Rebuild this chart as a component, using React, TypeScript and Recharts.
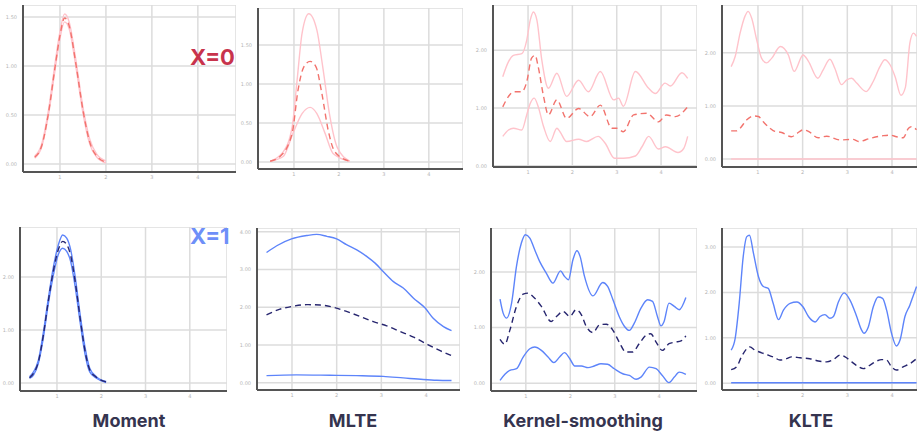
import React from "react";
import { LineChart, Line, XAxis, YAxis, CartesianGrid } from "recharts";

// X = 0 row (pink)
const momentX0Upper = [[0.45, 0.08], [0.6, 0.2], [0.75, 0.55], [0.9, 1.05], [1.0, 1.35], [1.1, 1.53], [1.2, 1.45], [1.35, 1.05], [1.5, 0.58], [1.65, 0.25], [1.8, 0.1], [2.0, 0.03]];
const momentX0Mid = [[0.45, 0.07], [0.6, 0.18], [0.75, 0.52], [0.9, 1.01], [1.0, 1.31], [1.1, 1.49], [1.2, 1.41], [1.35, 1.01], [1.5, 0.55], [1.65, 0.22], [1.8, 0.08], [2.0, 0.02]];
const momentX0Lower = [[0.45, 0.06], [0.6, 0.17], [0.75, 0.5], [0.9, 0.98], [1.0, 1.28], [1.1, 1.45], [1.2, 1.38], [1.35, 0.98], [1.5, 0.52], [1.65, 0.2], [1.8, 0.07], [2.0, 0.01]];

const mlteX0Upper = [[0.47, 0.01], [0.76, 0.13], [0.96, 0.45], [1.07, 1.05], [1.18, 1.65], [1.33, 1.9], [1.51, 1.69], [1.64, 1.22], [1.8, 0.58], [1.96, 0.19], [2.24, 0.01]];
const mlteX0Mid = [[0.47, 0.01], [0.69, 0.07], [0.96, 0.37], [1.09, 0.92], [1.22, 1.22], [1.36, 1.29], [1.49, 1.22], [1.62, 0.88], [1.76, 0.41], [1.91, 0.13], [2.24, 0.01]];
const mlteX0Lower = [[0.47, 0.01], [0.76, 0.07], [0.98, 0.37], [1.18, 0.62], [1.36, 0.7], [1.51, 0.62], [1.69, 0.37], [1.87, 0.11], [2.24, 0.01]];

const kernelX0Upper = [[0.43, 1.54], [0.56, 1.8], [0.67, 1.91], [0.86, 1.94], [0.97, 2.17], [1.05, 2.52], [1.12, 2.66], [1.2, 2.52], [1.31, 1.83], [1.46, 1.34], [1.65, 1.6], [1.87, 1.2], [2.14, 1.48], [2.36, 1.28], [2.63, 1.63], [2.93, 1.14], [3.04, 1.17], [3.15, 1.03], [3.42, 1.63], [3.72, 1.34], [3.87, 1.25], [4.09, 1.43], [4.21, 1.38], [4.47, 1.61], [4.6, 1.51]];
const kernelX0Mid = [[0.43, 1.02], [0.56, 1.2], [0.67, 1.28], [0.86, 1.28], [0.97, 1.45], [1.08, 1.86], [1.16, 1.91], [1.23, 1.71], [1.35, 1.2], [1.46, 0.88], [1.65, 1.14], [1.87, 0.82], [2.14, 0.99], [2.4, 0.85], [2.63, 1.05], [2.89, 0.65], [3.0, 0.65], [3.15, 0.59], [3.38, 0.88], [3.68, 0.91], [3.94, 0.76], [4.12, 0.88], [4.32, 0.85], [4.6, 1.02]];
const kernelX0Lower = [[0.43, 0.51], [0.56, 0.62], [0.67, 0.65], [0.86, 0.62], [0.97, 0.88], [1.05, 1.08], [1.14, 1.17], [1.23, 1.02], [1.35, 0.68], [1.5, 0.42], [1.65, 0.65], [1.72, 0.59], [1.87, 0.42], [2.14, 0.46], [2.32, 0.42], [2.58, 0.51], [2.74, 0.39], [2.95, 0.13], [3.15, 0.13], [3.42, 0.17], [3.57, 0.33], [3.72, 0.51], [3.94, 0.29], [4.1, 0.33], [4.38, 0.23], [4.51, 0.3], [4.6, 0.51]];

const klteX0Upper = [[0.4, 1.74], [0.49, 1.93], [0.6, 2.37], [0.71, 2.69], [0.78, 2.78], [0.86, 2.65], [0.97, 2.25], [1.08, 1.9], [1.19, 1.81], [1.31, 1.9], [1.5, 2.12], [1.68, 1.96], [1.81, 1.65], [2.01, 1.96], [2.13, 1.84], [2.34, 1.52], [2.46, 1.68], [2.61, 1.88], [2.72, 1.71], [2.87, 1.4], [2.99, 1.49], [3.1, 1.52], [3.21, 1.43], [3.42, 1.27], [3.58, 1.46], [3.73, 1.74], [3.84, 1.87], [3.96, 1.77], [4.07, 1.55], [4.2, 1.2], [4.3, 1.35], [4.4, 2.18], [4.48, 2.37], [4.55, 2.31]];
const klteX0Mid = [[0.4, 0.53], [0.52, 0.53], [0.6, 0.58], [0.75, 0.74], [0.9, 0.81], [1.01, 0.8], [1.12, 0.7], [1.27, 0.58], [1.38, 0.52], [1.53, 0.5], [1.75, 0.42], [1.87, 0.48], [2.01, 0.55], [2.13, 0.52], [2.35, 0.4], [2.54, 0.43], [2.84, 0.36], [3.13, 0.37], [3.25, 0.33], [3.51, 0.39], [3.81, 0.44], [3.96, 0.45], [4.1, 0.42], [4.25, 0.4], [4.37, 0.58], [4.44, 0.61], [4.55, 0.55]];
const klteX0Lower = [[0.4, 0.0], [1.5, 0.0], [3.0, 0.0], [4.55, 0.0]];

// X = 1 row (blue)
const momentX1Upper = [[0.38, 0.12], [0.47, 0.21], [0.58, 0.43], [0.69, 0.94], [0.8, 1.57], [0.92, 2.19], [1.03, 2.6], [1.13, 2.79], [1.22, 2.73], [1.31, 2.51], [1.41, 2.01], [1.52, 1.31], [1.63, 0.69], [1.74, 0.28], [1.89, 0.12], [2.11, 0.03]];
const momentX1Mid = [[0.38, 0.1], [0.47, 0.18], [0.58, 0.4], [0.69, 0.89], [0.8, 1.52], [0.92, 2.12], [1.03, 2.51], [1.13, 2.67], [1.22, 2.61], [1.31, 2.4], [1.41, 1.92], [1.52, 1.24], [1.63, 0.62], [1.74, 0.25], [1.89, 0.11], [2.11, 0.02]];
const momentX1Lower = [[0.38, 0.09], [0.47, 0.15], [0.58, 0.37], [0.69, 0.84], [0.8, 1.47], [0.92, 2.04], [1.03, 2.42], [1.13, 2.54], [1.22, 2.48], [1.31, 2.29], [1.41, 1.82], [1.52, 1.16], [1.63, 0.56], [1.74, 0.21], [1.89, 0.09], [2.11, 0.01]];

const mlteX1Upper = [[0.43, 3.45], [0.66, 3.63], [0.99, 3.81], [1.33, 3.9], [1.55, 3.93], [1.78, 3.88], [2.0, 3.81], [2.22, 3.66], [2.45, 3.52], [2.67, 3.35], [2.86, 3.17], [3.04, 2.95], [3.27, 2.68], [3.49, 2.51], [3.72, 2.24], [3.98, 1.98], [4.16, 1.71], [4.39, 1.49], [4.57, 1.38]];
const mlteX1Mid = [[0.43, 1.8], [0.73, 1.95], [0.99, 2.02], [1.33, 2.07], [1.63, 2.06], [1.93, 2.0], [2.22, 1.89], [2.52, 1.76], [2.82, 1.62], [3.12, 1.51], [3.42, 1.36], [3.72, 1.21], [4.01, 1.03], [4.28, 0.87], [4.57, 0.72]];
const mlteX1Lower = [[0.43, 0.19], [1.1, 0.21], [1.85, 0.2], [2.45, 0.19], [3.04, 0.17], [3.49, 0.13], [3.94, 0.09], [4.24, 0.07], [4.57, 0.06]];

const kernelX1Upper = [[0.42, 1.51], [0.49, 1.26], [0.57, 1.17], [0.68, 1.44], [0.79, 2.1], [0.9, 2.52], [0.99, 2.67], [1.09, 2.61], [1.2, 2.4], [1.31, 2.19], [1.46, 1.98], [1.61, 1.8], [1.78, 2.02], [1.87, 1.92], [1.96, 1.86], [2.06, 2.22], [2.15, 2.38], [2.22, 2.28], [2.32, 1.92], [2.51, 1.57], [2.73, 1.81], [2.84, 1.74], [2.96, 1.5], [3.1, 1.2], [3.22, 1.02], [3.33, 0.95], [3.44, 1.08], [3.59, 1.35], [3.74, 1.5], [3.85, 1.47], [3.96, 1.2], [4.04, 1.03], [4.11, 1.11], [4.22, 1.44], [4.34, 1.38], [4.45, 1.32], [4.6, 1.54]];
const kernelX1Mid = [[0.42, 0.79], [0.53, 0.7], [0.64, 0.95], [0.79, 1.38], [0.94, 1.6], [1.05, 1.62], [1.16, 1.56], [1.35, 1.38], [1.57, 1.11], [1.69, 1.2], [1.84, 1.29], [1.99, 1.2], [2.13, 1.32], [2.25, 1.23], [2.36, 1.02], [2.51, 0.91], [2.66, 1.05], [2.81, 1.06], [2.96, 0.95], [3.1, 0.74], [3.25, 0.56], [3.4, 0.56], [3.55, 0.71], [3.7, 0.86], [3.81, 0.89], [3.93, 0.74], [4.07, 0.59], [4.22, 0.71], [4.37, 0.74], [4.49, 0.76], [4.6, 0.85]];
const kernelX1Lower = [[0.42, 0.05], [0.53, 0.16], [0.64, 0.23], [0.79, 0.26], [0.94, 0.47], [1.09, 0.62], [1.2, 0.65], [1.35, 0.59], [1.5, 0.47], [1.63, 0.37], [1.76, 0.47], [1.87, 0.55], [1.99, 0.44], [2.1, 0.31], [2.25, 0.31], [2.4, 0.28], [2.54, 0.31], [2.69, 0.35], [2.84, 0.34], [2.99, 0.26], [3.18, 0.17], [3.33, 0.14], [3.48, 0.07], [3.59, 0.11], [3.78, 0.29], [3.93, 0.26], [4.07, 0.14], [4.22, 0.01], [4.34, 0.11], [4.45, 0.2], [4.6, 0.16]];

const klteX1Upper = [[0.4, 0.73], [0.49, 0.99], [0.58, 1.76], [0.67, 2.79], [0.75, 3.23], [0.81, 3.26], [0.9, 2.86], [1.01, 2.35], [1.12, 2.13], [1.23, 2.09], [1.34, 1.76], [1.46, 1.4], [1.57, 1.61], [1.72, 1.76], [1.87, 1.79], [2.01, 1.68], [2.13, 1.47], [2.28, 1.35], [2.39, 1.47], [2.5, 1.51], [2.61, 1.43], [2.69, 1.47], [2.8, 1.79], [2.93, 1.99], [3.06, 1.83], [3.21, 1.47], [3.32, 1.17], [3.37, 1.1], [3.47, 1.24], [3.58, 1.68], [3.69, 1.9], [3.79, 1.87], [3.88, 1.61], [3.99, 1.1], [4.1, 0.82], [4.18, 0.95], [4.29, 1.47], [4.4, 1.72], [4.48, 1.94], [4.55, 2.13]];
const klteX1Mid = [[0.4, 0.3], [0.52, 0.36], [0.63, 0.58], [0.75, 0.76], [0.82, 0.8], [0.93, 0.73], [1.08, 0.67], [1.23, 0.62], [1.38, 0.56], [1.49, 0.51], [1.64, 0.54], [1.75, 0.58], [1.94, 0.56], [2.16, 0.54], [2.35, 0.49], [2.54, 0.47], [2.69, 0.52], [2.84, 0.62], [2.95, 0.58], [3.1, 0.47], [3.25, 0.36], [3.36, 0.32], [3.51, 0.4], [3.66, 0.49], [3.77, 0.52], [3.88, 0.51], [3.99, 0.36], [4.1, 0.29], [4.25, 0.36], [4.4, 0.43], [4.55, 0.54]];
const klteX1Lower = [[0.4, 0.01], [1.5, 0.01], [3.0, 0.01], [4.55, 0.01]];

const xTicks = [1, 2, 3, 4];
const methodTitles = ["Moment", "MLTE", "Kernel-smoothing", "KLTE"];
const rowLabels = ["X=0", "X=1"];

const PINK = "#ffc3cb";
const RED_DASH = "#f2736d";
const BLUE = "#5d84fa";
const NAVY_DASH = "#27266f";

const YW = 20;
const XH = 12;

const toPts = (arr: number[][]) => arr.map(([x, y]) => ({ x, y }));

const panels = [
  { left: 23, right: 236, top: 5, bottom: 172, x: [0.196, 4.83], y: [-0.082, 1.622], yTicks: [0, 0.5, 1, 1.5], s: [momentX0Upper, momentX0Mid, momentX0Lower], row: 0 },
  { left: 258, right: 463, top: 8, bottom: 169, x: [0.2, 4.76], y: [-0.09, 1.974], yTicks: [0, 0.5, 1, 1.5], s: [mlteX0Upper, mlteX0Mid, mlteX0Lower], row: 0 },
  { left: 493, right: 697, top: 5, bottom: 167, x: [0.21, 4.81], y: [-0.02, 2.78], yTicks: [0, 1, 2], s: [kernelX0Upper, kernelX0Mid, kernelX0Lower], row: 0 },
  { left: 722, right: 917, top: 5, bottom: 167, x: [0.195, 4.56], y: [-0.15, 2.9], yTicks: [0, 1, 2], s: [klteX0Upper, klteX0Mid, klteX0Lower], row: 0 },
  { left: 20, right: 227, top: 227, bottom: 391, x: [0.165, 4.84], y: [-0.15, 2.94], yTicks: [0, 1, 2], s: [momentX1Upper, momentX1Mid, momentX1Lower], row: 1 },
  { left: 257, right: 460, top: 228, bottom: 390, x: [0.217, 4.76], y: [-0.19, 4.1], yTicks: [0, 1, 2, 3, 4], s: [mlteX1Upper, mlteX1Mid, mlteX1Lower], row: 1 },
  { left: 491, right: 697, top: 228, bottom: 391, x: [0.217, 4.85], y: [-0.14, 2.79], yTicks: [0, 1, 2], s: [kernelX1Upper, kernelX1Mid, kernelX1Lower], row: 1 },
  { left: 722, right: 917, top: 228, bottom: 390, x: [0.195, 4.56], y: [-0.15, 3.42], yTicks: [0, 1, 2, 3], s: [klteX1Upper, klteX1Mid, klteX1Lower], row: 1 },
];

const tickStyle = { fontSize: 5, fill: "#b4b4b4", fontFamily: "DejaVu Sans" };

function Panel({ p }: any) {
  const w = p.right - p.left;
  const h = p.bottom - p.top;
  const solid = p.row === 0 ? PINK : BLUE;
  const dash = p.row === 0 ? RED_DASH : NAVY_DASH;
  return (
    <div style={{ position: "absolute", left: p.left - YW, top: p.top }}>
      <LineChart width={w + YW} height={h + XH} margin={{ top: 0, right: 0, bottom: 0, left: 0 }}>
        <CartesianGrid stroke="#dcdcdc" strokeWidth={1.5} />
        <XAxis
          type="number"
          dataKey="x"
          domain={p.x}
          ticks={xTicks}
          allowDataOverflow
          height={XH}
          tickLine={false}
          tickSize={0}
          tickMargin={3}
          axisLine={{ stroke: "#555", strokeWidth: 2 }}
          tick={tickStyle}
        />
        <YAxis
          type="number"
          dataKey="y"
          domain={p.y}
          ticks={p.yTicks}
          allowDataOverflow
          width={YW}
          tickLine={false}
          tickSize={0}
          tickMargin={6}
          axisLine={{ stroke: "#555", strokeWidth: 2 }}
          tick={tickStyle}
          tickFormatter={(v: number) => v.toFixed(2)}
        />
        <Line data={toPts(p.s[0])} dataKey="y" type="monotone" stroke={solid} strokeWidth={1.4} dot={false} isAnimationActive={false} />
        <Line data={toPts(p.s[2])} dataKey="y" type="monotone" stroke={solid} strokeWidth={1.4} dot={false} isAnimationActive={false} />
        <Line data={toPts(p.s[1])} dataKey="y" type="monotone" stroke={dash} strokeWidth={1.4} strokeDasharray="6 4" dot={false} isAnimationActive={false} />
      </LineChart>
    </div>
  );
}

const titleCenters = [129, 353, 583, 811];

export default function App() {
  return (
    <div style={{ position: "absolute", left: 0, top: 0, width: 917, height: 431, background: "#fff", overflow: "hidden", fontFamily: "Inter, 'Noto Sans', sans-serif" }}>
      {panels.map((p, i) => (
        <Panel key={i} p={p} />
      ))}
      <div style={{ position: "absolute", left: 190, top: 44, fontSize: 22, fontWeight: 700, color: "#c8334c", lineHeight: "26px" }}>{rowLabels[0]}</div>
      <div style={{ position: "absolute", left: 190, top: 223, fontSize: 22, fontWeight: 700, color: "#6e8ff8", lineHeight: "26px" }}>{rowLabels[1]}</div>
      {methodTitles.map((t, i) => (
        <div
          key={t}
          style={{ position: "absolute", left: titleCenters[i] - 100, width: 200, top: 410, textAlign: "center", fontSize: 18, fontWeight: 700, color: "#35344f", lineHeight: "22px" }}
        >
          {t}
        </div>
      ))}
    </div>
  );
}
